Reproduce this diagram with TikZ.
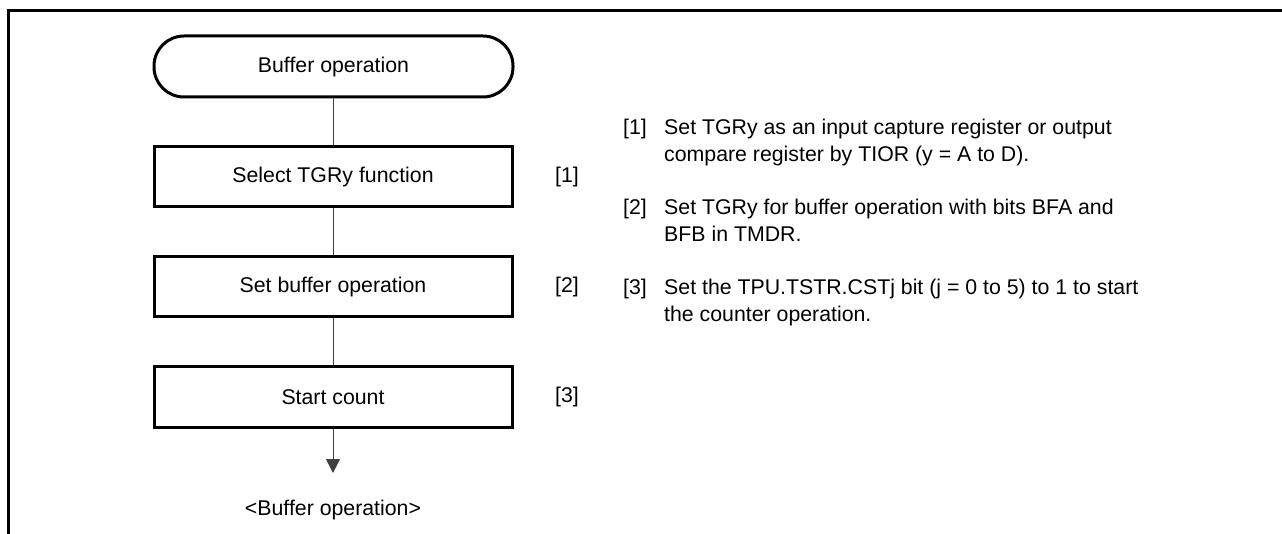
\documentclass[tikz,border=0pt]{standalone}
\usepackage{fontspec}
\setmainfont{Liberation Sans}
\usetikzlibrary{arrows.meta}
\begin{document}
\begin{tikzpicture}[x=1pt,y=-1pt,
  every node/.style={font=\fontsize{21.3}{27}\selectfont},
  term/.style={draw,line width=3pt,rounded corners=30pt,minimum width=359pt,minimum height=61pt,inner sep=0pt},
  procbox/.style={draw,line width=3pt,minimum width=358pt,minimum height=60pt,inner sep=0pt},
  conn/.style={line width=1pt,draw=black!75},
  lbl/.style={anchor=west,inner sep=0pt},
  txt/.style={anchor=base west,inner sep=0pt}]
\useasboundingbox (0,0) rectangle (1282,534);
\draw[line width=3pt] (8.5,536) -- (8.5,11) -- (1283,11);
\node[term] (t) at (333.5,66.5) {Buffer operation};
\node[procbox] (b1) at (333,177) {Select TGRy function};
\node[procbox] (b2) at (333,287) {Set buffer operation};
\node[procbox] (b3) at (333,397) {Start count};
\coordinate (end) at (333,473);
\node (endl) at (333,510) {<Buffer operation>};
\draw[conn] (t.south -| b1.north) -- (b1.north);
\draw[conn] (b1) -- (b2);
\draw[conn] (b2) -- (b3);
\draw[conn,-{Triangle[length=14pt,width=14pt]}] (b3) -- (end);
\node[lbl] (l1) at (555,177) {[1]};
\node[lbl] (l2) at (555,287) {[2]};
\node[lbl] (l3) at (555,397) {[3]};
\node[txt] (n1) at (623,135) {[1]};
\node[txt] (t1a) at (664,135) {Set TGRy as an input capture register or output};
\node[txt] (t1b) at (664,162) {compare register by TIOR (y = A to D).};
\node[txt] (n2) at (623,215) {[2]};
\node[txt] (t2a) at (664,215) {Set TGRy for buffer operation with bits BFA and};
\node[txt] (t2b) at (664,242) {BFB in TMDR.};
\node[txt] (n3) at (623,295) {[3]};
\node[txt] (t3a) at (664,295) {Set the TPU.TSTR.CSTj bit (j = 0 to 5) to 1 to start};
\node[txt] (t3b) at (664,322) {the counter operation.};
\end{tikzpicture}
\end{document}
